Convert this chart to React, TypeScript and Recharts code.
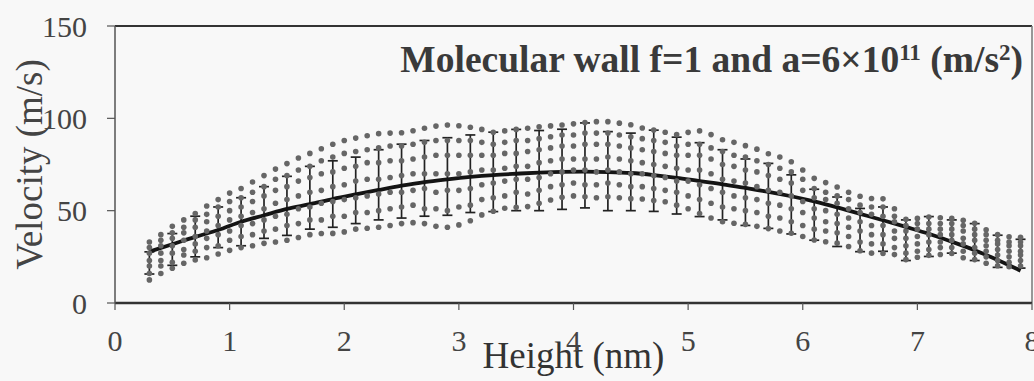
import {
  ComposedChart,
  Scatter,
  Line,
  ErrorBar,
  XAxis,
  YAxis,
  ReferenceLine,
} from "recharts";

// sampled heights for the individual velocity profiles (nm)
const heights = [
  0.3, 0.4, 0.5, 0.6, 0.7, 0.8, 0.9, 1.0, 1.1, 1.2,
  1.3, 1.4, 1.5, 1.6, 1.7, 1.8, 1.9, 2.0, 2.1, 2.2,
  2.3, 2.4, 2.5, 2.6, 2.7, 2.8, 2.9, 3.0, 3.1, 3.2,
  3.3, 3.4, 3.5, 3.6, 3.7, 3.8, 3.9, 4.0, 4.1, 4.2,
  4.3, 4.4, 4.5, 4.6, 4.7, 4.8, 4.9, 5.0, 5.1, 5.2,
  5.3, 5.4, 5.5, 5.6, 5.7, 5.8, 5.9, 6.0, 6.1, 6.2,
  6.3, 6.4, 6.5, 6.6, 6.7, 6.8, 6.9, 7.0, 7.1, 7.2,
  7.3, 7.4, 7.5, 7.6, 7.7, 7.8, 7.9,
];

// velocity profiles (m/s), one per run
const runHigh = [
  33, 37, 41.5, 45, 48.5, 52.5, 56, 59.5, 62, 65.5,
  69, 72.5, 75.5, 78.5, 81, 83.5, 86, 88, 89.3, 90.6,
  91.7, 92, 92.2, 93.3, 94.6, 95.8, 96.4, 96, 95.2, 94,
  92.5, 93.2, 94, 94.6, 95.4, 95.9, 96.4, 97, 97.7, 98.2,
  98.2, 97.4, 96.5, 94.8, 93.7, 92.5, 91.2, 92.4, 93.2, 91.2,
  88.4, 87, 85.2, 83.3, 80.8, 79, 76.5, 72, 67.5, 65.2,
  62.8, 60, 57.8, 56.6, 56.4, 51, 45.3, 45.8, 46.6, 46.2,
  45.8, 44.8, 43.2, 39.6, 37, 35.9, 35.6,
];
const runLow = [
  12.5, 16, 18.8, 21.5, 23.3, 24.5, 26.5, 28.5, 30, 31,
  32.3, 33, 34, 35.5, 37, 37.6, 37.7, 38.5, 40, 40.5,
  41, 42, 43, 43.5, 43, 41.5, 41, 42.3, 44.5, 47.7,
  49.7, 51.3, 51.8, 52.2, 54, 55.8, 57.3, 58, 57.5, 57,
  57.5, 57, 56.5, 56.3, 55.5, 54.8, 53, 51, 48.5, 46,
  44, 43.2, 42.6, 41.5, 40.3, 39, 37.8, 36, 34.1, 33.2,
  32.4, 30.6, 28.3, 27, 26.8, 26.2, 23.5, 24.8, 25.8, 26.3,
  26.8, 24.5, 23.5, 21.5, 20.2, 19.6, 20,
];
const run1 = [
  16, 20, 22, 26, 28, 30, 31, 34, 36, 37,
  39, 40, 42, 43, 45, 45, 47, 47, 49, 49,
  50, 51, 52, 53, 51, 51, 50, 52, 53, 56,
  57, 58, 60, 59, 61, 63, 64, 65, 64, 64,
  65, 64, 63, 63, 62, 61, 60, 58, 56, 54,
  52, 51, 50, 49, 47, 46, 44, 42, 40, 39,
  38, 36, 33, 32, 32, 30, 27, 28, 29, 30,
  30, 28, 27, 25, 23, 22, 23,
];
const run2 = [
  20, 23, 27, 29, 32, 35, 37, 39, 42, 43,
  45, 47, 48, 51, 52, 54, 55, 56, 57, 58,
  59, 60, 60, 61, 62, 60, 61, 61, 62, 64,
  65, 66, 67, 67, 68, 70, 71, 72, 72, 71,
  72, 71, 70, 70, 69, 68, 66, 66, 64, 62,
  60, 58, 57, 56, 54, 53, 51, 49, 46, 44,
  43, 41, 39, 37, 37, 35, 31, 32, 33, 33,
  34, 32, 30, 28, 26, 25, 26,
];
const run3 = [
  23, 27, 31, 34, 36, 39, 42, 45, 47, 49,
  51, 54, 56, 58, 60, 61, 63, 64, 66, 67,
  67, 68, 69, 70, 70, 70, 70, 70, 71, 72,
  72, 73, 74, 74, 76, 77, 78, 78, 78, 78,
  79, 78, 77, 76, 75, 74, 73, 72, 72, 70,
  67, 66, 65, 63, 61, 60, 58, 55, 51, 50,
  48, 46, 44, 42, 42, 39, 35, 36, 37, 37,
  37, 35, 34, 31, 29, 28, 28,
];
const run4 = [
  27, 31, 35, 38, 41, 44, 47, 50, 52, 55,
  58, 61, 63, 66, 68, 70, 71, 73, 74, 76,
  76, 77, 77, 78, 79, 80, 80, 80, 80, 80,
  80, 81, 81, 82, 83, 84, 85, 85, 86, 86,
  86, 85, 84, 83, 82, 81, 80, 80, 80, 78,
  75, 74, 72, 71, 69, 67, 65, 61, 57, 56,
  54, 51, 49, 48, 47, 44, 39, 40, 40, 40,
  40, 39, 37, 34, 32, 31, 31,
];
const run5 = [
  30, 34, 38, 41, 45, 48, 52, 55, 57, 60,
  63, 67, 69, 72, 74, 77, 79, 81, 82, 83,
  84, 85, 85, 86, 87, 88, 88, 88, 88, 87,
  86, 87, 88, 88, 89, 90, 91, 91, 92, 92,
  92, 91, 90, 89, 88, 87, 85, 86, 86, 84,
  82, 80, 79, 77, 75, 73, 71, 67, 62, 60,
  58, 56, 53, 52, 52, 47, 42, 43, 43, 43,
  43, 42, 40, 37, 34, 33, 33,
];

// averaged profile with standard deviation
const barHeights = [
  0.3, 0.5, 0.7, 0.9, 1.1, 1.3, 1.5, 1.7, 1.9, 2.1,
  2.3, 2.5, 2.7, 2.9, 3.1, 3.3, 3.5, 3.7, 3.9, 4.1,
  4.3, 4.5, 4.7, 4.9, 5.1, 5.3, 5.5, 5.7, 5.9, 6.1,
  6.3, 6.5, 6.7, 6.9, 7.1, 7.3, 7.5, 7.7, 7.9,
];
const barMean = [
  21.7, 29, 36, 41, 44, 49, 52.6, 57, 59, 61,
  64, 66, 67.5, 68.5, 70, 71, 72, 71.7, 72.4, 74.5,
  71.4, 71, 71.6, 69, 66.8, 64, 60, 58, 53.4, 47.8,
  44, 39.5, 40, 34, 36, 36, 33, 28, 26.7,
];
const barErr = [
  6, 8.6, 11, 11, 13, 14, 16, 17, 18, 18,
  19, 20, 20.5, 21, 21, 21.5, 22, 21.7, 21.7, 23,
  21.4, 21, 22, 20.8, 20, 19, 18, 17.6, 16, 13.8,
  13.4, 11.7, 12, 11, 10.8, 9, 10, 8.7, 7.8,
];
// fitted curve
const fitVel = [
  27.8, 31.8, 35.8, 39.5, 44, 47.5, 51, 53.5, 56.3, 58.8,
  61.2, 63.5, 65.5, 67, 68.3, 69.3, 70, 70.6, 71, 71.1,
  70.9, 70.4, 69.3, 67.8, 66, 64.3, 62.3, 60.2, 57.8, 55,
  51.8, 48.3, 44.8, 41.2, 37.5, 33.2, 28.6, 23.3, 17.5,
];

const xTicks = [0, 1, 2, 3, 4, 5, 6, 7, 8];
const yTicks = [0, 50, 100, 150];

const runs = [runHigh, runLow, run1, run2, run3, run4, run5];

const font = "'Liberation Serif', 'Times New Roman', serif";
const tickStyle = { fontFamily: font, fontSize: 30, fill: "#444" };

const Dot = (p: any) => (
  <circle cx={p.cx} cy={p.cy} r={2.8} fill="#666" />
);
const Hidden = () => <g />;

const Title = () => (
  <text
    x={1023}
    y={72}
    textAnchor="end"
    fontFamily={font}
    fontWeight="bold"
    fontSize={37.5}
    fill="#3a3a3a"
  >
    Molecular wall f=1 and a=6×10
    <tspan dy={-12} fontSize={23}>11</tspan>
    <tspan dy={12}> (m/s</tspan>
    <tspan dy={-12} fontSize={23}>2</tspan>
    <tspan dy={12}>)</tspan>
  </text>
);

export default function App() {
  const bars = barHeights.map((h, i) => ({ x: h, y: barMean[i], err: barErr[i] }));
  const fit = barHeights.map((h, i) => ({ x: h, y: fitVel[i] }));

  return (
    <div style={{ position: "absolute", left: 0, top: 0, background: "#f8f8f8" }}>
      <ComposedChart
        width={1034}
        height={381}
        margin={{ top: 26, right: 2, left: 0, bottom: 0 }}
      >
        <XAxis
          type="number"
          dataKey="x"
          domain={[0, 8]}
          ticks={xTicks}
          interval={0}
          height={78}
          tickSize={7}
          tickMargin={20}
          tick={tickStyle}
          axisLine={{ stroke: "#333", strokeWidth: 2.5 }}
          tickLine={{ stroke: "#555", strokeWidth: 1.2 }}
          label={{
            content: ({ viewBox }: any) => (
              <text
                x={viewBox.x + viewBox.width / 2}
                y={viewBox.y + 65}
                textAnchor="middle"
                fontFamily={font}
                fontSize={37}
                fill="#333"
              >
                Height (nm)
              </text>
            ),
          }}
        />
        <YAxis
          type="number"
          dataKey="y"
          domain={[0, 150]}
          ticks={yTicks}
          interval={0}
          width={115}
          tickSize={8}
          tickMargin={20}
          tick={tickStyle}
          axisLine={{ stroke: "#555", strokeWidth: 1.5 }}
          tickLine={{ stroke: "#555", strokeWidth: 1.2 }}
          label={{
            content: ({ viewBox }: any) => {
              const cy = viewBox.y + viewBox.height / 2;
              return (
                <text
                  x={42}
                  y={cy}
                  transform={`rotate(-90, 42, ${cy})`}
                  textAnchor="middle"
                  fontFamily={font}
                  fontSize={37}
                  fill="#444"
                >
                  Velocity (m/s)
                </text>
              );
            },
          }}
        />
        <ReferenceLine
          y={150}
          stroke="#333"
          strokeWidth={2}
          label={{ content: () => <Title /> }}
        />
        <ReferenceLine x={8} stroke="#777" strokeWidth={1.5} />
        {runs.map((r, k) => (
          <Scatter
            key={k}
            data={heights.map((h, i) => ({ x: h, y: r[i] }))}
            shape={Dot}
            isAnimationActive={false}
          />
        ))}
        <Scatter data={bars} shape={Hidden} isAnimationActive={false}>
          <ErrorBar
            dataKey="err"
            direction="y"
            width={5}
            stroke="#222"
            strokeWidth={1.7}
            isAnimationActive={false}
          />
        </Scatter>
        <Line
          data={fit}
          dataKey="y"
          type="monotone"
          stroke="#141414"
          strokeWidth={3.8}
          dot={false}
          isAnimationActive={false}
        />
      </ComposedChart>
    </div>
  );
}
